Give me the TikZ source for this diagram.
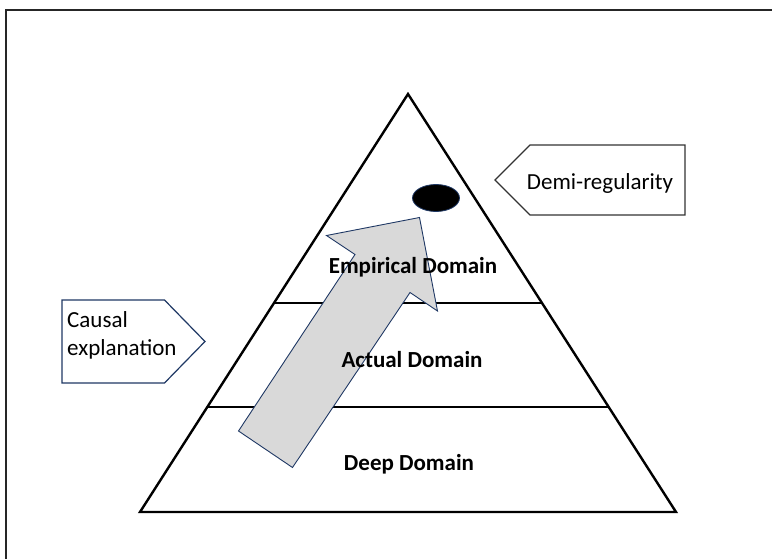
\documentclass[tikz,border=0pt]{standalone}
\usepackage{fontspec}
\setmainfont{Carlito}
\usetikzlibrary{shapes.geometric}
\definecolor{navy}{HTML}{1F3864}
\definecolor{arrowfill}{HTML}{D9D9D9}
\tikzset{
  frameline/.style={line width=1.8pt, draw=black!85},
  pyramid/.style={line width=2.4pt, draw=black, line join=miter},
  layer/.style={line width=1.3pt, draw=black},
  calloutL/.style={line width=1.2pt, draw=navy, fill=white},
  calloutR/.style={line width=1.2pt, draw=black!80, fill=white},
  bigarrow/.style={line width=0.9pt, draw=navy, fill=arrowfill, line join=miter},
  domlabel/.style={font=\fontsize{23}{27}\selectfont\bfseries, inner sep=0pt},
  ctext/.style={font=\fontsize{23}{28.5}\selectfont, inner sep=0pt, align=left},
}
\begin{document}
\begin{tikzpicture}[x=1pt,y=-1pt]
\useasboundingbox (0,0) rectangle (772,559);
% outer frame (clipped at right and bottom)
\draw[frameline] (6,575) -- (6,10) -- (790,10);
% pyramid
\coordinate (apex) at (408,94);
\coordinate (bl) at (140,512);
\coordinate (br) at (676,512);
\draw[pyramid] (apex) -- (bl) -- (br) -- cycle;
% layer lines
\coordinate (l1a) at (274,303);
\coordinate (l1b) at (542,303);
\coordinate (l2a) at (207,407);
\coordinate (l2b) at (609,407);
\draw[layer] (l1a) -- (l1b);
\draw[layer] (l2a) -- (l2b);
% ellipse
\node[draw=navy, fill=black, ellipse, minimum width=47pt, minimum height=27pt, inner sep=0pt, line width=0.8pt] (dot) at (436,198) {};
% big arrow
\coordinate (a1) at (238.5,431);
\coordinate (a2) at (292.5,467.5);
\coordinate (a3) at (410,292.5);
\coordinate (a4) at (437.5,311);
\coordinate (a5) at (419.5,217.5);
\coordinate (a6) at (326.5,235.5);
\coordinate (a7) at (355,254.5);
\draw[bigarrow] (a1) -- (a2) -- (a3) -- (a4) -- (a5) -- (a6) -- (a7) -- cycle;
% domain labels
\node[domlabel] (emp) at (413,267) {Empirical Domain};
\node[domlabel] (act) at (412,360) {Actual Domain};
\node[domlabel] (deep) at (409,464) {Deep Domain};
% left callout
\coordinate (c1) at (62,300);
\coordinate (c2) at (164.5,300);
\coordinate (c3) at (205,341.5);
\coordinate (c4) at (164.5,383);
\coordinate (c5) at (62,383);
\draw[calloutL] (c1) -- (c2) -- (c3) -- (c4) -- (c5) -- cycle;
\node[ctext, anchor=north west] (causal) at (67,311) {Causal\\explanation};
% right callout
\coordinate (d1) at (495,180);
\coordinate (d2) at (530,145);
\coordinate (d3) at (685,145);
\coordinate (d4) at (685,215);
\coordinate (d5) at (530,215);
\draw[calloutR] (d1) -- (d2) -- (d3) -- (d4) -- (d5) -- cycle;
\node[ctext] (demi) at (600,183) {Demi-regularity};
\end{tikzpicture}
\end{document}
